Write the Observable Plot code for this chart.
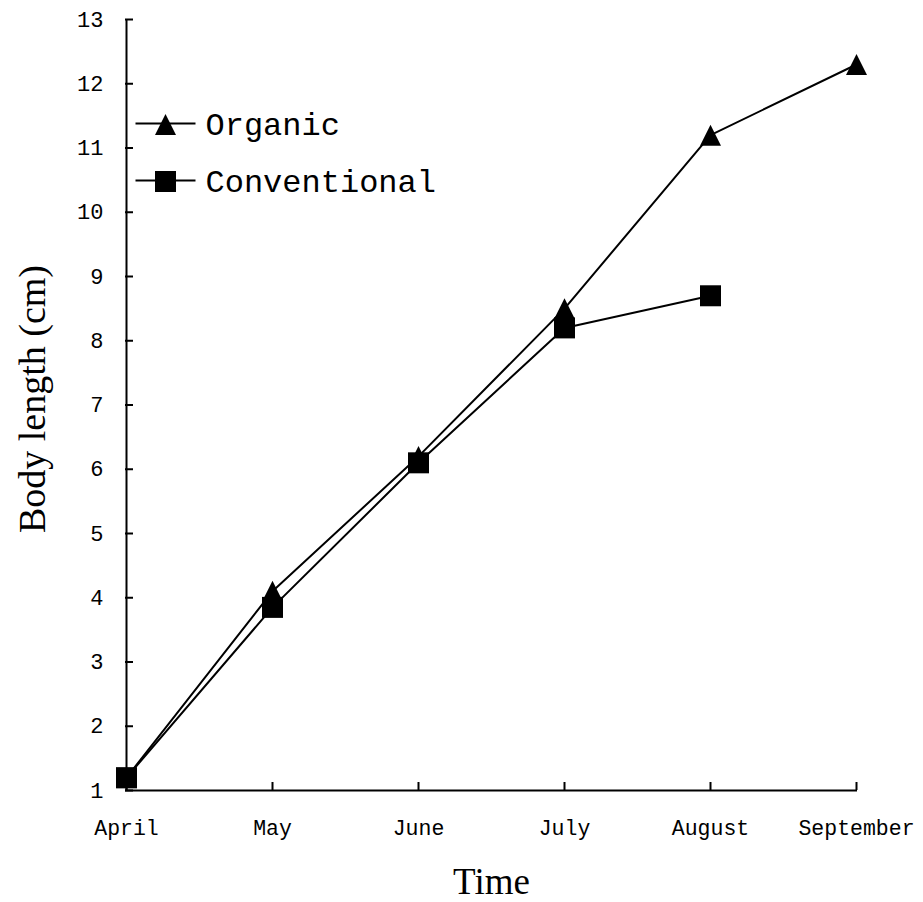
<!DOCTYPE html>
<html><head><meta charset="utf-8">
<script src="https://cdn.jsdelivr.net/npm/d3@7"></script>
<script src="https://cdn.jsdelivr.net/npm/@observablehq/plot@0.6"></script>
<style>body{margin:0;background:#fff}</style>
</head><body><div id="chart"></div>
<script>
const months = ["April", "May", "June", "July", "August", "September"];
const organic = [1.2, 4.1, 6.2, 8.5, 11.2, 12.3];
const conventional = [1.2, 3.85, 6.1, 8.2, 8.7];
const yTicks = [1, 2, 3, 4, 5, 6, 7, 8, 9, 10, 11, 12, 13];
const seriesNames = ["Organic", "Conventional"];
const xTitle = "Time";
const yTitle = "Body length (cm)";

const W = 923, H = 902;
const mL = 125, mR = 66, mT = 19, mB = 112;
const plotW = W - mL - mR, plotH = H - mT - mB;

const orgRows = organic.map((v, i) => ({month: months[i], value: v, series: seriesNames[0]}));
const conRows = conventional.map((v, i) => ({month: months[i], value: v, series: seriesNames[1]}));

const tri = {draw(ctx, size) { const r = Math.sqrt(size / Math.PI); ctx.moveTo(0, -r); ctx.lineTo(r, r); ctx.lineTo(-r, r); ctx.closePath(); }};
const sq = {draw(ctx, size) { const r = Math.sqrt(size / Math.PI); ctx.rect(-r, -r, 2 * r, 2 * r); }};
const hline = {draw(ctx, size) { const r = Math.sqrt(size / Math.PI); ctx.moveTo(-r, 0); ctx.lineTo(r, 0); }};
const symbols = [tri, sq];

const monoFont = "'Liberation Mono', monospace";
const serifFont = "'Liberation Serif', 'Times New Roman', serif";

const legendMarks = seriesNames.flatMap((name, i) => {
  const dy = 105 + i * 57;
  return [
    Plot.dot([name], {frameAnchor: "top-left", dx: 40, dy: dy - 1, symbol: hline, r: 30, stroke: "black", fill: "none", strokeWidth: 2}),
    Plot.dot([name], {frameAnchor: "top-left", dx: 40, dy: dy, symbol: symbols[i], r: 10.5, fill: "black", stroke: "none"}),
    Plot.text([name], {frameAnchor: "top-left", dx: 80, dy: dy, text: d => d, textAnchor: "start", lineAnchor: "middle", fontSize: 32, fontFamily: monoFont, fill: "black"})
  ];
});

const chart = Plot.plot({
  width: W, height: H,
  marginLeft: mL, marginRight: mR, marginTop: mT, marginBottom: mB,
  style: {background: "#fff", color: "black"},
  x: {type: "point", domain: months, padding: 0},
  y: {domain: [1, 13]},
  marks: [
    Plot.axisY({ticks: yTicks, tickSize: 0, tickPadding: 22, fontSize: 22, fontFamily: monoFont, label: null, fill: "black"}),
    Plot.axisX({tickSize: 0, tickPadding: 29, fontSize: 21.5, fontFamily: monoFont, label: null, fill: "black"}),
    Plot.tickY(yTicks, {y: d => d, insetRight: plotW - 8, stroke: "black", strokeWidth: 2}),
    Plot.tickX(months, {x: d => d, insetTop: plotH - 8, stroke: "black", strokeWidth: 2}),
    Plot.ruleX([months[0]], {stroke: "black", strokeWidth: 2}),
    Plot.ruleY([yTicks[0]], {stroke: "black", strokeWidth: 2}),
    Plot.line(orgRows, {x: "month", y: "value", stroke: "black", strokeWidth: 2}),
    Plot.line(conRows, {x: "month", y: "value", stroke: "black", strokeWidth: 2}),
    Plot.dot(orgRows, {x: "month", y: "value", symbol: tri, r: 10.5, fill: "black", stroke: "none"}),
    Plot.dot(conRows, {x: "month", y: "value", symbol: sq, r: 10.5, fill: "black", stroke: "none"}),
    ...legendMarks,
    Plot.text([yTitle], {frameAnchor: "left", dx: -93, dy: -6, rotate: -90, text: d => d, fontSize: 38, fontFamily: serifFont, lineAnchor: "middle", textAnchor: "middle", fill: "black"}),
    Plot.text([xTitle], {frameAnchor: "bottom", dy: 92, text: d => d, fontSize: 37, fontFamily: serifFont, lineAnchor: "middle", textAnchor: "middle", fill: "black"})
  ]
});
document.getElementById("chart").appendChild(chart);
</script>
</body></html>
